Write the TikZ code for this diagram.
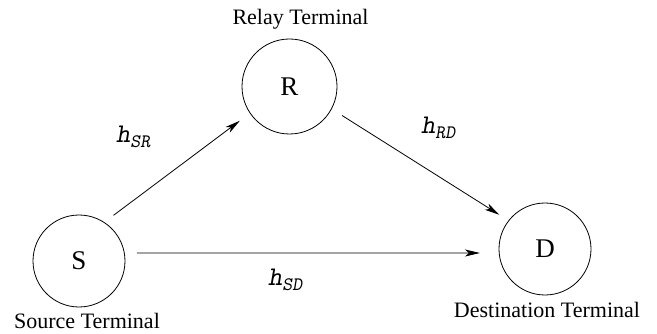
\documentclass[tikz,border=0pt]{standalone}
\usepackage{fontspec}
\setmainfont{Liberation Serif}
\usetikzlibrary{arrows.meta}
\tikzset{
  term/.style={circle,draw,line width=0.8pt,minimum size=#1,inner sep=0pt,outer sep=0pt,font=\fontsize{27}{27}\selectfont},
  link/.style={line width=0.8pt,-{Stealth[length=15pt,width=7pt,inset=4pt]}},
  captext/.style={font=\fontsize{22}{22}\selectfont,anchor=base,inner sep=0pt},
  glab/.style={anchor=base west,inner sep=0pt,font=\fontsize{27}{27}\ttfamily\slshape}
}
\newcommand{\subl}[1]{\raisebox{-5pt}{\fontsize{19}{19}\ttfamily\slshape #1}}
\begin{document}
\begin{tikzpicture}[x=1pt,y=-1pt]
\useasboundingbox (0,0) rectangle (657,334);
\node[term=92pt] (S) at (79,261) {\raisebox{-2pt}{S}};
\node[term=95pt] (R) at (289.5,86.5) {\raisebox{-2pt}{R}};
\node[term=92pt] (D) at (545,249) {\raisebox{-2pt}{D}};
\node[captext] (lr) at (300.5,25) {Relay Terminal};
\node[captext] (ls) at (87,328) {Source Terminal};
\node[captext] (ld) at (547,318) {Destination Terminal};
\draw[link,shorten <=11.85pt,shorten >=12.85pt] (S.57.8) -- (R.214.4);
\draw[link,shorten <=12.55pt,shorten >=11pt] (R.332.7) -- (D.142.3);
\draw[link,shorten <=12.5pt,shorten >=19.2pt] (S.10.4) -- (D.185.4);
\node[glab] (hsr) at (116,143) {h\subl{SR}};
\node[glab] (hrd) at (421,134) {h\subl{RD}};
\node[glab] (hsd) at (268,286) {h\subl{SD}};
\end{tikzpicture}
\end{document}
